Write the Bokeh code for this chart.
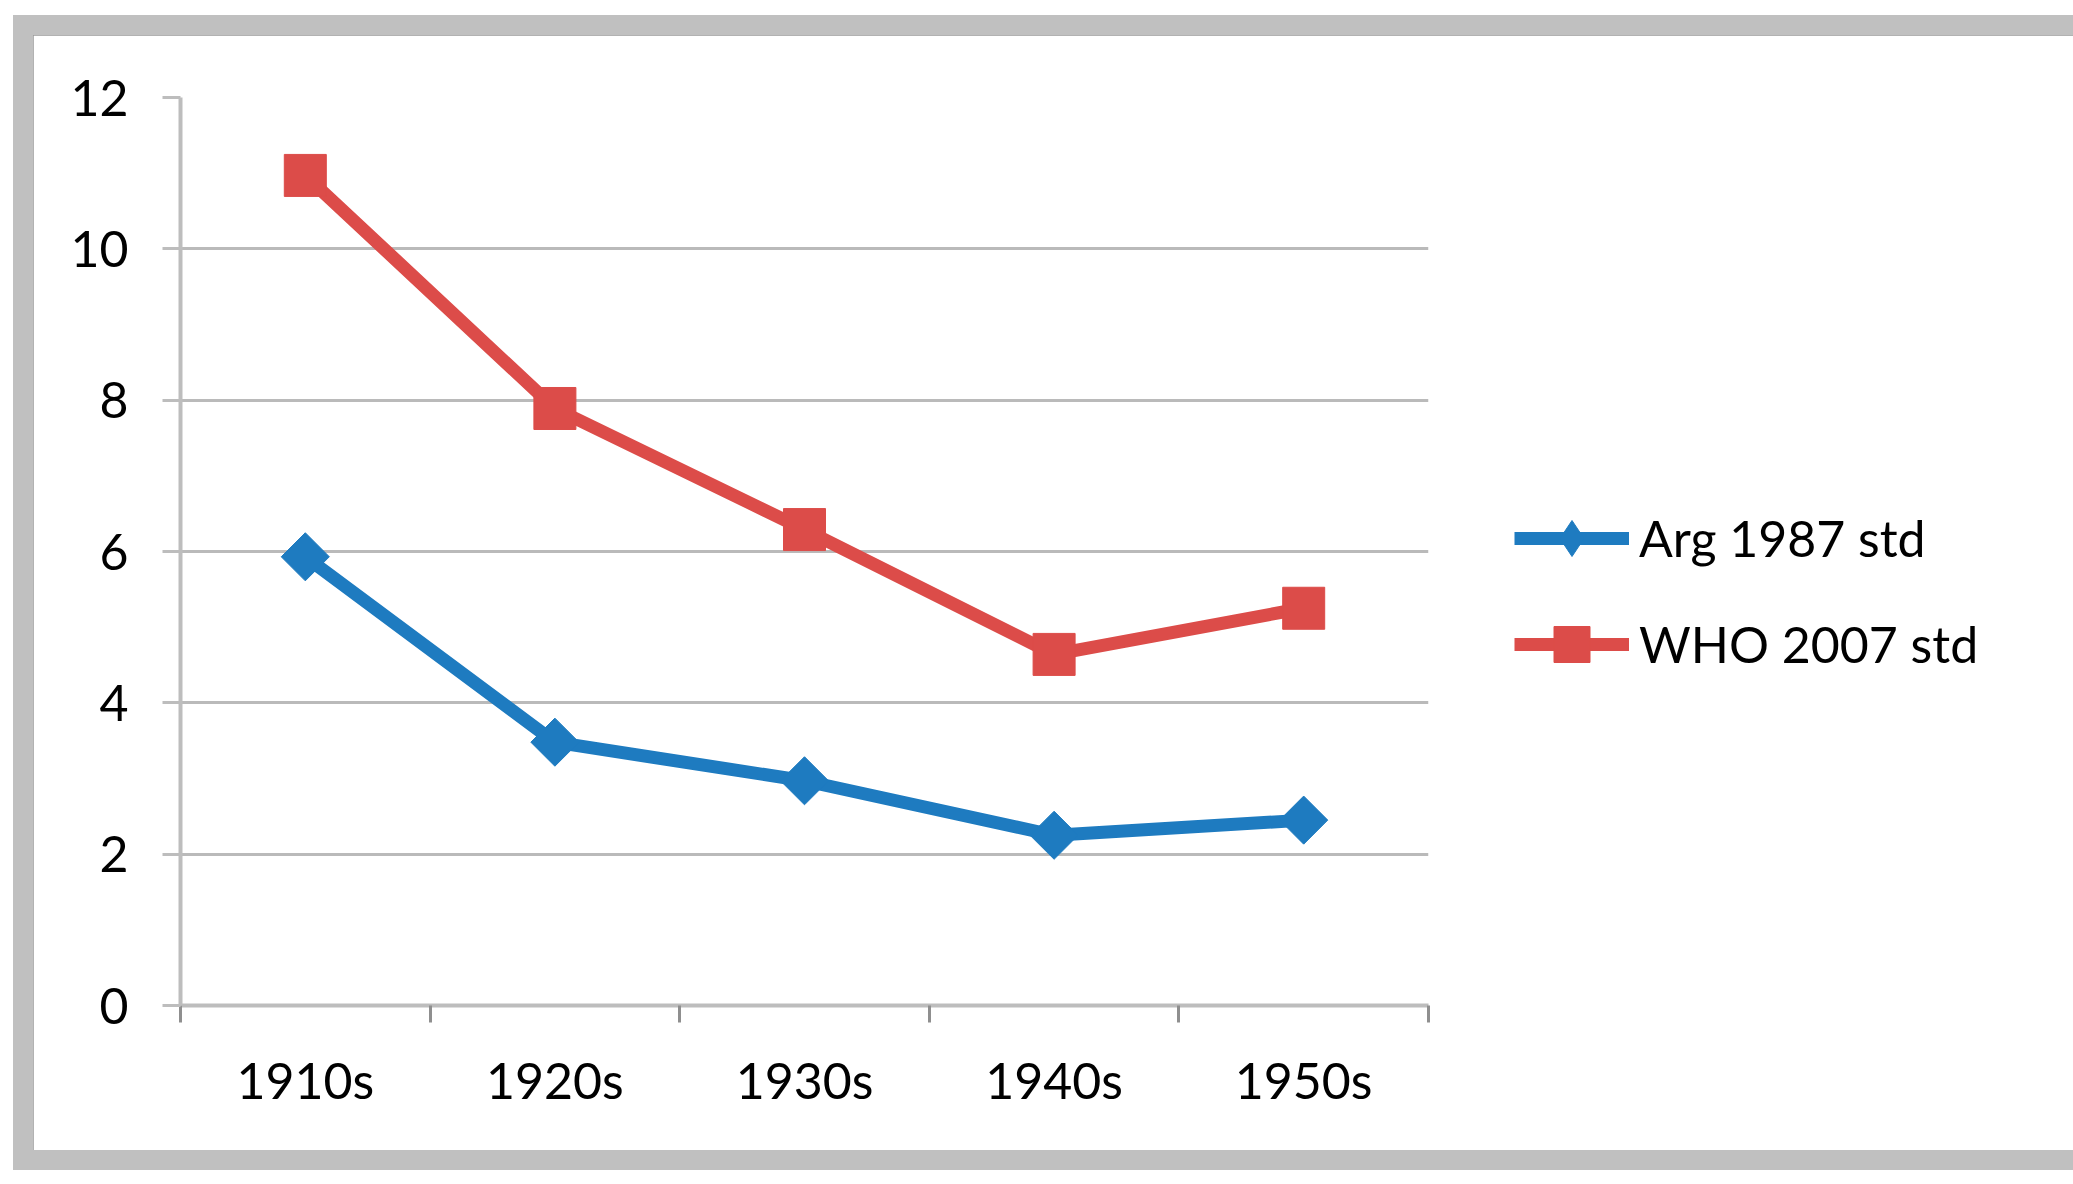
import numpy as np
from bokeh.plotting import figure
from bokeh.models import (FactorRange, Range1d, LinearAxis, CategoricalAxis, FixedTicker,
                          Legend, LegendItem)
from bokeh.embed import file_html
from bokeh.resources import INLINE

# ---- data ----
decades = ["1910s", "1920s", "1930s", "1940s", "1950s"]
arg_1987 = [5.93, 3.48, 2.97, 2.25, 2.45]
who_2007 = [10.97, 7.89, 6.29, 4.64, 5.25]
y_ticks = [0, 2, 4, 6, 8, 10, 12]
series_names = ["Arg 1987 std", "WHO 2007 std"]

BLUE = "#1e7bc0"
RED = "#dc4c49"
AXIS = "#bdbdbd"
TICK = "#8f8f8f"
FONT = "Lato"

p = figure(frame_width=1248, frame_height=908,
           x_range=FactorRange(*decades), y_range=Range1d(0, 12),
           output_backend="svg", toolbar_location=None,
           x_axis_location=None, y_axis_location="left",
           min_border_left=147, min_border_right=605,
           min_border_top=62, min_border_bottom=145)
p.background_fill_color = "white"
p.border_fill_color = "white"
p.outline_line_color = None
p.margin = (35, 0, 0, 33)
p.styles = {"outline": "5px solid #999999", "outline-offset": "-5px",
            "box-shadow": "0 0 0 20px #c0c0c0"}

# y axis
p.yaxis.ticker = FixedTicker(ticks=y_ticks)
p.yaxis.axis_line_color = AXIS
p.yaxis.axis_line_width = 4
p.yaxis.major_tick_line_color = AXIS
p.yaxis.major_tick_line_width = 3
p.yaxis.major_tick_out = 18
p.yaxis.major_tick_in = 0
p.yaxis.minor_tick_line_color = None
p.yaxis.major_label_standoff = 34
p.yaxis.major_label_text_font = FONT
p.yaxis.major_label_text_font_size = "50px"
p.yaxis.major_label_text_color = "black"

p.ygrid.ticker = FixedTicker(ticks=y_ticks)
p.ygrid.grid_line_color = "#bababa"
p.ygrid.grid_line_width = 3
p.xgrid.grid_line_color = None

# x axis: tick marks at category boundaries (synthetic coordinates 0..5)
tick_axis = LinearAxis(ticker=FixedTicker(ticks=[], minor_ticks=list(range(len(decades) + 1))),
                       axis_line_color=AXIS, axis_line_width=4,
                       major_tick_line_color=None,
                       minor_tick_line_color=TICK, minor_tick_line_width=3,
                       minor_tick_out=17, minor_tick_in=0,
                       major_label_standoff=0)
p.add_layout(tick_axis, "below")
label_axis = CategoricalAxis(axis_line_color=None, major_tick_line_color=None,
                             major_tick_out=0, major_tick_in=0,
                             major_label_standoff=27,
                             major_label_text_font=FONT,
                             major_label_text_font_size="50px",
                             major_label_text_color="black")
p.add_layout(label_axis, "below")

# series
bl = p.line(decades, arg_1987, line_color=BLUE, line_width=13, line_join="round")
# tall diamond (used for the legend swatch), hidden under the chart marker
bd = p.scatter(decades, arg_1987, marker="diamond", size=44,
               fill_color=BLUE, line_color=BLUE)
bs = p.scatter(decades, arg_1987, marker="square", angle=np.pi / 4, size=34,
               fill_color=BLUE, line_color=BLUE)
rl = p.line(decades, who_2007, line_color=RED, line_width=13, line_join="round")
rs = p.scatter(decades, who_2007, marker="square", size=42,
               fill_color=RED, line_color=RED)

legend = Legend(items=[LegendItem(label=series_names[0], renderers=[bl, bd]),
                       LegendItem(label=series_names[1], renderers=[rl, rs])],
                location="center_left", glyph_width=115, glyph_height=90,
                spacing=16, padding=0, margin=86, label_standoff=10,
                label_text_font=FONT, label_text_font_size="50px",
                label_text_color="black",
                title=" ", title_text_font_size="50px", title_standoff=22,
                border_line_color=None, background_fill_alpha=0)
p.add_layout(legend, "right")

open("out.html", "w").write(file_html(p, INLINE))
